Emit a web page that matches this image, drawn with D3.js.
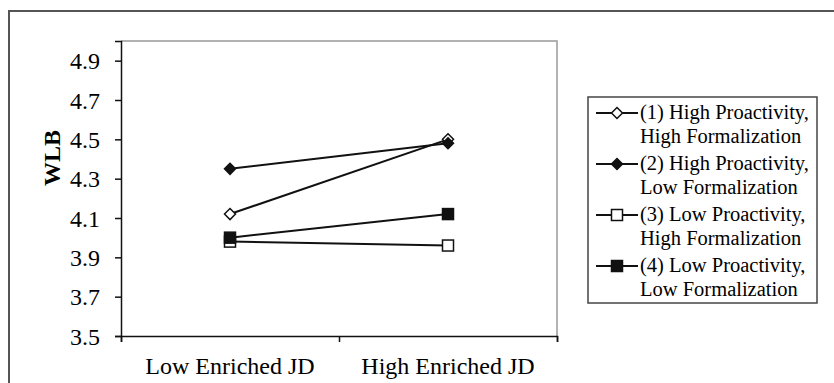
<!DOCTYPE html>
<html>
<head>
<meta charset="utf-8">
<script src="https://cdn.jsdelivr.net/npm/d3@7"></script>
<style>
  body { margin: 0; background: #fff; }
  svg text { font-family: "Liberation Serif", "Times New Roman", serif; fill: #000; }
</style>
</head>
<body>
<svg id="chart" width="834" height="383"></svg>
<script>
// categories on the x axis
var categories = ["Low Enriched JD", "High Enriched JD"];
// y axis tick values
var yTicks = [3.5, 3.7, 3.9, 4.1, 4.3, 4.5, 4.7, 4.9];
// series names (two text lines each) and values
var seriesNames = [
    ["(1) High Proactivity,", "High Formalization"],
    ["(2) High Proactivity,", "Low Formalization"],
    ["(3) Low Proactivity,", "High Formalization"],
    ["(4) Low Proactivity,", "Low Formalization"]
];
var series1 = [4.12, 4.50];
var series2 = [4.35, 4.48];
var series3 = [3.98, 3.96];
var series4 = [4.00, 4.12];
var markers = ["diamondOpen", "diamondFilled", "squareOpen", "squareFilled"];

var allSeries = [series1, series2, series3, series4];

var svg = d3.select("#chart");

// outer frame
svg.append("rect")
    .attr("x", 9).attr("y", 11)
    .attr("width", 840).attr("height", 400)
    .attr("fill", "none")
    .attr("stroke", "#555")
    .attr("stroke-width", 2);

var plotLeft = 121, plotRight = 557, plotTop = 41, plotBottom = 336;

var x = d3.scalePoint()
    .domain(categories)
    .range([plotLeft, plotRight])
    .padding(0.5);

var y = d3.scaleLinear()
    .domain([3.5, 5.0])
    .range([plotBottom, plotTop]);

// plot box (top and right edges)
svg.append("path")
    .attr("d", "M" + plotLeft + "," + plotTop + "H" + plotRight + "V" + plotBottom)
    .attr("fill", "none")
    .attr("stroke", "#999")
    .attr("stroke-width", 1.5);

// y axis
var yAxis = svg.append("g")
    .attr("transform", "translate(" + plotLeft + ",0)")
    .call(d3.axisLeft(y).tickValues(yTicks).tickSize(6).tickPadding(15).tickFormat(d3.format(".1f")));
yAxis.select(".domain").attr("stroke", "#111").attr("stroke-width", 1.5);
yAxis.selectAll(".tick line").attr("stroke", "#111").attr("stroke-width", 1.5);
yAxis.selectAll("text").style("font-size", "24px").attr("dy", "0.34em");

// x axis: ticks at category boundaries
var xBounds = d3.scaleLinear().domain([0, categories.length]).range([plotLeft, plotRight]);
var xAxis = svg.append("g")
    .attr("transform", "translate(0," + plotBottom + ")")
    .call(d3.axisBottom(xBounds).ticks(categories.length).tickSize(6).tickFormat(""));
xAxis.select(".domain").attr("stroke", "#111").attr("stroke-width", 1.5);
xAxis.selectAll(".tick line").attr("stroke", "#111").attr("stroke-width", 1.5);

svg.append("g")
    .selectAll("text")
    .data(categories)
    .enter()
        .append("text")
        .attr("x", function(d){ return x(d); })
        .attr("y", 374)
        .attr("text-anchor", "middle")
        .style("font-size", "24px")
        .text(function(d){ return d; });

// y label
svg.append("text")
    .attr("transform", "translate(60,158) rotate(-90)")
    .attr("text-anchor", "middle")
    .style("font-size", "24px")
    .style("font-weight", "bold")
    .text("WLB");

function drawMarker(g, type, cx, cy) {
    if (type.indexOf("diamond") == 0) {
        g.append("path")
            .attr("d", "M" + cx + "," + (cy - 5.5) + "L" + (cx + 5.5) + "," + cy + "L" + cx + "," + (cy + 5.5) + "L" + (cx - 5.5) + "," + cy + "Z")
            .attr("fill", type == "diamondFilled" ? "#111" : "#fff")
            .attr("stroke", "#111")
            .attr("stroke-width", 1.5);
    } else {
        g.append("rect")
            .attr("x", cx - 5.5).attr("y", cy - 5.5)
            .attr("width", 11).attr("height", 11)
            .attr("fill", type == "squareFilled" ? "#111" : "#fff")
            .attr("stroke", "#111")
            .attr("stroke-width", 1.5);
    }
}

var line = d3.line()
    .x(function(d, i){ return x(categories[i]); })
    .y(function(d){ return y(d); });

var plot = svg.append("g");
allSeries.forEach(function(s, k) {
    plot.append("path")
        .attr("d", line(s))
        .attr("fill", "none")
        .attr("stroke", "#111")
        .attr("stroke-width", 2);
});
allSeries.forEach(function(s, k) {
    s.forEach(function(v, i) {
        drawMarker(plot, markers[k], x(categories[i]), y(v));
    });
});

// legend
var legend = svg.append("g");
legend.append("rect")
    .attr("x", 588).attr("y", 97)
    .attr("width", 229).attr("height", 206)
    .attr("fill", "#fff")
    .attr("stroke", "#444")
    .attr("stroke-width", 1.5);

seriesNames.forEach(function(names, k) {
    var base = 119 + k * 51;
    var ly = base - 6;
    legend.append("line")
        .attr("x1", 596).attr("x2", 638)
        .attr("y1", ly).attr("y2", ly)
        .attr("stroke", "#111")
        .attr("stroke-width", 2);
    drawMarker(legend, markers[k], 617, ly);
    names.forEach(function(t, j) {
        legend.append("text")
            .attr("x", 640)
            .attr("y", base + j * 24)
            .style("font-size", "20.5px")
            .text(t);
    });
});
</script>
</body>
</html>
